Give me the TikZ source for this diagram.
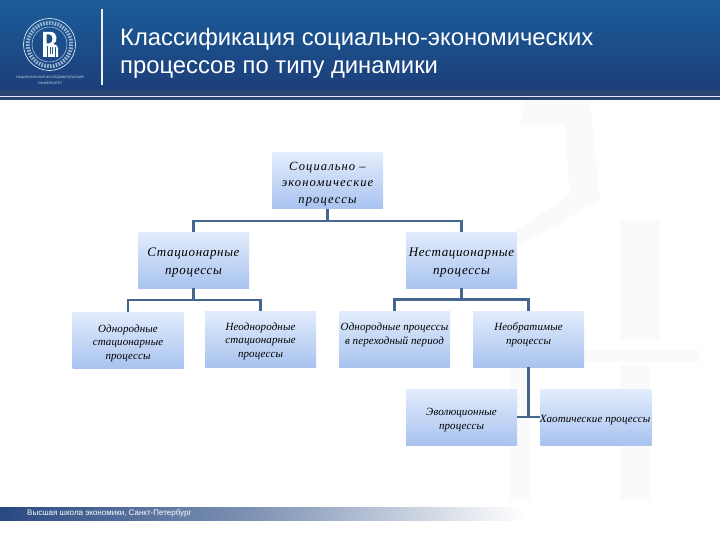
\documentclass[tikz,border=0pt]{standalone}
\usepackage{fontspec}
\setmainfont{Liberation Serif}
\newfontfamily\hdrfont{Liberation Sans}
\newfontfamily\wideA[LetterSpace=9]{Liberation Serif}
\newfontfamily\wideB[LetterSpace=5]{Liberation Serif}
\newfontfamily\wideC[LetterSpace=1]{Liberation Serif}
\usetikzlibrary{calc}
\definecolor{hdrtop}{HTML}{1B5C99}
\definecolor{hdrbot}{HTML}{1C3F7A}
\definecolor{hdrline}{HTML}{2B4470}
\definecolor{boxtop}{HTML}{E2ECFC}
\definecolor{boxbot}{HTML}{A8C3EF}
\definecolor{wire}{HTML}{44668F}
\definecolor{wmark}{HTML}{FAFAFB}
\tikzset{
  x=1pt,y=-1pt,
  procbox/.style={rectangle,minimum width=111pt,minimum height=56pt,inner sep=0pt,
    top color=boxtop,bottom color=boxbot},
  boxtext/.style={inner sep=0pt,align=center,text=black},
  roottext/.style={boxtext,font=\wideA\itshape\fontsize{12.5}{16.5}\selectfont},
  bigtext/.style={boxtext,font=\wideB\itshape\fontsize{13}{18}\selectfont},
  smalltext/.style={boxtext,font=\wideC\itshape\fontsize{11}{13.6}\selectfont},
  wireline/.style={draw=wire,line width=2.2pt},
}
\begin{document}
\begin{tikzpicture}
\useasboundingbox (0,0) rectangle (720,540);
\fill[white] (0,0) rectangle (720,540);
% watermark
\fill[wmark] (620,220) rectangle (660,340);
\fill[wmark] (525,100) -- (590,100) -- (600,200) -- (520,245) -- (510,235) -- (570,195) -- (565,125) -- (520,125) -- cycle;
\fill[wmark] (520,350) rectangle (700,362);
\fill[wmark] (510,365) rectangle (530,500);
\fill[wmark] (620,365) rectangle (650,500);
% header
\shade[top color=hdrtop,bottom color=hdrbot] (0,0) rectangle (720,90);
\fill[hdrline] (0,90) rectangle (720,96);
\fill[hdrline] (0,97.5) rectangle (720,100);
\fill[white!85!hdrtop] (0,96) rectangle (720,97.5);
% logo
\draw[white!85!hdrtop,line width=.7pt] (49.5,44.5) circle (26);
\draw[white!70!hdrtop,line width=.5pt] (49.5,44.5) circle (17.5);
\draw[white!55!hdrtop,line width=4pt,dash pattern=on 1.6pt off 1.3pt] (49.5,44.5) circle (21.7);
\fill[white,even odd rule] (43,32) -- (51,32) .. controls (58,32) and (58,43) .. (53,44) .. controls (55,44.5) and (58,45) .. (58,48) -- (58,57) -- (43,57) -- cycle
  (46.6,34.5) -- (46.6,43.3) -- (49.5,43.3) .. controls (53.5,43.3) and (53.5,34.5) .. (49.5,34.5) -- cycle;
\fill[hdrtop] (46.6,46) rectangle (48,57);
\fill[hdrtop] (49.5,47) rectangle (50.6,54);
\fill[hdrtop] (52.2,47) rectangle (53.3,54);
\fill[hdrtop] (54.8,47) rectangle (55.6,57);
\node[inner sep=0pt,text=white!80!hdrtop,align=center,font=\hdrfont\fontsize{3.3}{5.5}\selectfont] (logotext) at (50,80) {НАЦИОНАЛЬНЫЙ ИССЛЕДОВАТЕЛЬСКИЙ\\УНИВЕРСИТЕТ};
\draw[white!90!hdrtop,line width=1.1pt] (102,9) -- (102,85);
% title
\node[anchor=north west,inner sep=0pt,text=white,align=left,font=\hdrfont\fontsize{23.8}{28}\selectfont] (title) at (120,28) {Классификация социально-экономических\\процессов по типу динамики};
% footer
\shade[left color=hdrbot!95!white,right color=white,middle color=hdrbot!55!white] (0,507) rectangle (525,520);
\node[anchor=west,inner sep=0pt,text=white,font=\hdrfont\fontsize{8}{9}\selectfont] (foot) at (27,513.5) {Высшая школа экономики, Санкт-Петербург};
% boxes
\node[procbox] (root) at (327.5,181) {};
\node[roottext] (roott) at (327.5,184) {Социально –\\экономические\\процессы};
\node[procbox] (stat) at (193.5,260) {};
\node[bigtext] (statt) at (193.5,263) {Стационарные\\процессы};
\node[procbox] (nest) at (461.5,260) {};
\node[bigtext] (nestt) at (461.5,263) {Нестационарные\\процессы};
\node[procbox] (odn) at (128,340) {};
\node[smalltext] (odnt) at (128,343) {Однородные\\стационарные\\процессы};
\node[procbox] (neodn) at (260.5,339) {};
\node[smalltext] (neodnt) at (260.5,341) {Неоднородные\\стационарные\\процессы};
\node[procbox] (per) at (394.5,339) {};
\node[smalltext] (pert) at (394.5,335) {Однородные процессы\\в переходный период};
\node[procbox] (neobr) at (528.5,339) {};
\node[smalltext] (neobrt) at (528.5,335) {Необратимые\\процессы};
\node[procbox] (evol) at (461.5,417) {};
\node[smalltext] (evolt) at (461.5,420) {Эволюционные\\процессы};
\node[procbox] (chaos) at (596,417) {};
\node[smalltext] (chaost) at (595,420) {Хаотические процессы};
% bus points
\coordinate (busa) at (328,221);
\coordinate (busb) at (194,300);
\coordinate (busc) at (462,299.5);
\coordinate (busd) at (529,417);
\draw[wireline] (root.south) -- (root.south |- busa);
\draw[wireline] (stat.north) -- (stat.north |- busa) -- (nest.north |- busa) -- (nest.north);
\draw[wireline] (stat.south) -- (stat.south |- busb);
\draw[wireline] (odn.north) -- (odn.north |- busb) -- (neodn.north |- busb) -- (neodn.north);
\draw[wireline] (nest.south) -- (nest.south |- busc);
\draw[wireline] (per.north) -- (per.north |- busc) -- (neobr.north |- busc) -- (neobr.north);
\draw[wireline] (neobr.south) -- (neobr.south |- busd);
\draw[wireline] (evol.east) -- (chaos.west);
\end{tikzpicture}
\end{document}
